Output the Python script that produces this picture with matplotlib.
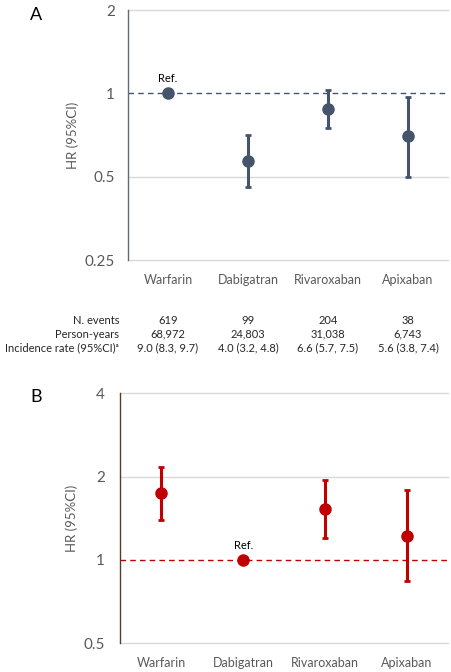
import numpy as np
import matplotlib.pyplot as plt
from matplotlib.ticker import FixedLocator, NullLocator

plt.rcParams['font.family'] = ['Lato', 'DejaVu Sans']

# Data
drugs = ['Warfarin', 'Dabigatran', 'Rivaroxaban', 'Apixaban']

hr_a = [1.0, 0.57, 0.88, 0.70]
lo_a = [1.0, 0.46, 0.75, 0.50]
hi_a = [1.0, 0.71, 1.03, 0.97]

hr_b = [1.74, 1.0, 1.53, 1.22]
lo_b = [1.40, 1.0, 1.20, 0.84]
hi_b = [2.17, 1.0, 1.95, 1.79]

row_labels = ['N. events', 'Person-years', 'Incidence rate (95%CI)\u1d43']
n_events = ['619', '99', '204', '38']
person_years = ['68,972', '24,803', '31,038', '6,743']
inc_rate = ['9.0 (8.3, 9.7)', '4.0 (3.2, 4.8)', '6.6 (5.7, 7.5)', '5.6 (3.8, 7.4)']

ticks_a = [0.25, 0.5, 1, 2]
ticks_b = [0.5, 1, 2, 4]

W, H = 452, 672
fig = plt.figure(figsize=(W / 100, H / 100), dpi=100)

axA = fig.add_axes([128 / W, 1 - 260 / H, 320 / W, 250 / H])
axB = fig.add_axes([120.3 / W, 1 - 643.3 / H, 327.7 / W, 250 / H])


def draw_panel(ax, hr, lo, hi, ticks, col, spine_col, ref_idx, ypad):
    x = np.arange(len(drugs))
    hr = np.array(hr)
    yerr = [hr - np.array(lo), np.array(hi) - hr]
    ax.set_yscale('log')
    ax.set_ylim(ticks[0], ticks[-1])
    ax.set_xlim(-0.5, len(drugs) - 0.5)
    ax.yaxis.set_major_locator(FixedLocator(ticks))
    ax.yaxis.set_minor_locator(NullLocator())
    ax.set_yticklabels([('%g' % t) for t in ticks])
    ax.set_xticks(x)
    ax.set_xticklabels(drugs)
    for t in ticks:
        if t != 1:
            ax.axhline(t, color='#d9d9d9', lw=1, zorder=0, clip_on=False)
    ax.axhline(1, color=col, lw=1, ls=(0, (4, 3)), zorder=1)
    ax.errorbar(x, hr, yerr=yerr, fmt='o', color=col, ms=8, lw=2.2,
                capsize=2, capthick=2, zorder=3)
    ax.text(x[ref_idx], 1.08, 'Ref.', ha='center', va='bottom', fontsize=8, color='black')
    for s in ['top', 'right', 'bottom']:
        ax.spines[s].set_visible(False)
    ax.spines['left'].set_color(spine_col)
    ax.spines['left'].set_linewidth(1)
    ax.tick_params(length=0, labelsize=9, colors='#595959')
    ax.tick_params(axis='y', pad=ypad, labelsize=11)
    ax.tick_params(axis='x', pad=10)
    ax.set_ylabel('HR (95%CI)', color='#595959', fontsize=9.5, labelpad=4)


draw_panel(axA, hr_a, lo_a, hi_a, ticks_a, '#44546a', '#5f6a7a', 0, 9.5)
draw_panel(axB, hr_b, lo_b, hi_b, ticks_b, '#c00000', '#5c3a21', 1, 11)

fig.text(36 / W, 1 - 15 / H, 'A', fontsize=13, ha='center', va='center')
fig.text(36 / W, 1 - 397 / H, 'B', fontsize=13, ha='center', va='center')

# table under panel A
rows = [n_events, person_years, inc_rate]
row_y = [320, 334, 348]
for lab, vals, yp in zip(row_labels, rows, row_y):
    yy = (260 - yp) / 250
    axA.text(-0.028, yy, lab, transform=axA.transAxes, ha='right', va='center',
             fontsize=8, color='#262626', clip_on=False)
    for i, v in enumerate(vals):
        axA.text(i, yy, v, transform=axA.get_xaxis_transform(), ha='center', va='center',
                 fontsize=8, color='#262626', clip_on=False)

fig.savefig('out.png', dpi=100)
